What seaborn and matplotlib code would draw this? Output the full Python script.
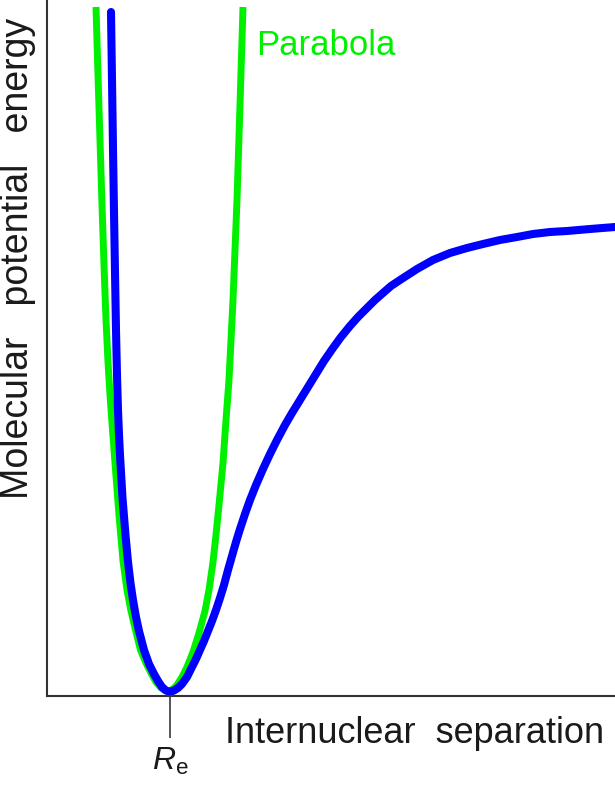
import matplotlib
matplotlib.use("Agg")
import matplotlib.pyplot as plt
import seaborn as sns
import pandas as pd

# Values (arbitrary units: separation, energy)
morse_r = [111, 112, 113, 114, 115, 116, 117, 118, 119, 120, 122.5, 125.5, 128, 130.5,
           133, 136, 139, 144, 149, 154, 158, 162, 166, 170, 174, 178, 182, 187, 192,
           196, 200, 204, 208, 212, 216, 220, 224, 228, 232, 236, 240, 245, 250, 256,
           263, 270, 277, 285, 292, 300, 308, 316, 324, 333, 341, 350, 358, 367, 375,
           383, 391, 400, 417, 433, 450, 467, 483, 500, 517, 533, 550, 567, 590, 615]
morse_e = [684, 616, 548, 484, 424, 366, 321, 286, 261, 241, 198, 161, 134, 113,
           96, 79, 65, 46, 32, 22, 15, 9, 5.5, 4, 5.5, 8, 12, 19, 29,
           37, 46, 55, 65, 75, 86, 98, 111, 126, 140, 154, 167, 182, 196, 211,
           227, 242, 256, 271, 283, 296, 309, 322, 335, 348, 359, 370, 379, 388, 396,
           403, 410, 416, 427, 436, 443, 448, 452, 456, 459, 462, 464, 465, 467, 469]

parab_r = [96, 98, 100, 102, 104, 106, 108, 110, 112.5, 115, 119, 123, 127, 131, 135.5,
           140.5, 146, 151.5, 156, 161, 165, 169, 173, 177, 182, 187, 193, 199, 205,
           209, 213, 216, 219, 223, 226, 229, 231, 233, 235, 237, 240, 243]
parab_e = [689, 621, 556, 491, 431, 376, 334, 301, 266, 233, 181, 135, 106, 85, 66,
           46, 33, 22, 14, 8, 5.5, 5, 7, 11, 19, 29, 44, 63, 85,
           106, 134, 161, 191, 233, 276, 316, 356, 396, 446, 496, 591, 689]

r_eq = 170
tick_labels = [r"$\mathit{R}_{\mathrm{e}}$"]
curve_label = "Parabola"
x_title = "Internuclear  separation"
y_title = "Molecular   potential   energy"

BLUE = "#0000FF"
GREEN = "#00F000"

sns.set_theme(style="white")
plt.rcParams["font.family"] = ["Liberation Sans", "DejaVu Sans"]
plt.rcParams["mathtext.fontset"] = "custom"
plt.rcParams["mathtext.it"] = "Liberation Sans:italic"
plt.rcParams["mathtext.rm"] = "Liberation Sans"

morse = pd.DataFrame({"r": morse_r, "E": morse_e})
parab = pd.DataFrame({"r": parab_r, "E": parab_e})

fig = plt.figure(figsize=(6.15, 7.89), dpi=100)
ax = fig.add_axes([47 / 615, 93 / 789, 568 / 615, 696 / 789])

sns.lineplot(data=parab, x="r", y="E", ax=ax, color=GREEN, lw=5.0,
             sort=False, estimator=None, solid_joinstyle="round", solid_capstyle="butt")
sns.lineplot(data=morse, x="r", y="E", ax=ax, color=BLUE, lw=5.8,
             sort=False, estimator=None, solid_joinstyle="round", solid_capstyle="round")

ax.set_xlim(47, 615)
ax.set_ylim(0, 696)

for side in ["top", "right"]:
    ax.spines[side].set_visible(False)
for side in ["left", "bottom"]:
    ax.spines[side].set_color("#333333")
    ax.spines[side].set_linewidth(1.5)

ax.set_yticks([])
ax.set_xticks([r_eq])
ax.set_xticklabels(tick_labels, fontsize=23, color="#1a1a1a")
ax.tick_params(axis="x", direction="out", length=30, width=1.4, color="#555555",
               pad=6, bottom=True)

ax.set_xlabel(x_title, fontsize=26, color="#1a1a1a")
ax.xaxis.label.set_ha("left")
ax.xaxis.label.set_va("baseline")
ax.xaxis.set_label_coords((225 - 47) / 568, -(743 - 696) / 696)

ax.set_ylabel(y_title, fontsize=27, color="#1a1a1a")
ax.yaxis.label.set_va("bottom")
ax.yaxis.set_label_coords((36 - 47) / 568, (696 - 258) / 696)

ax.text(256, 696 - 55, curve_label, color=GREEN, fontsize=25, ha="left", va="baseline")

fig.savefig("out.png", dpi=100)
